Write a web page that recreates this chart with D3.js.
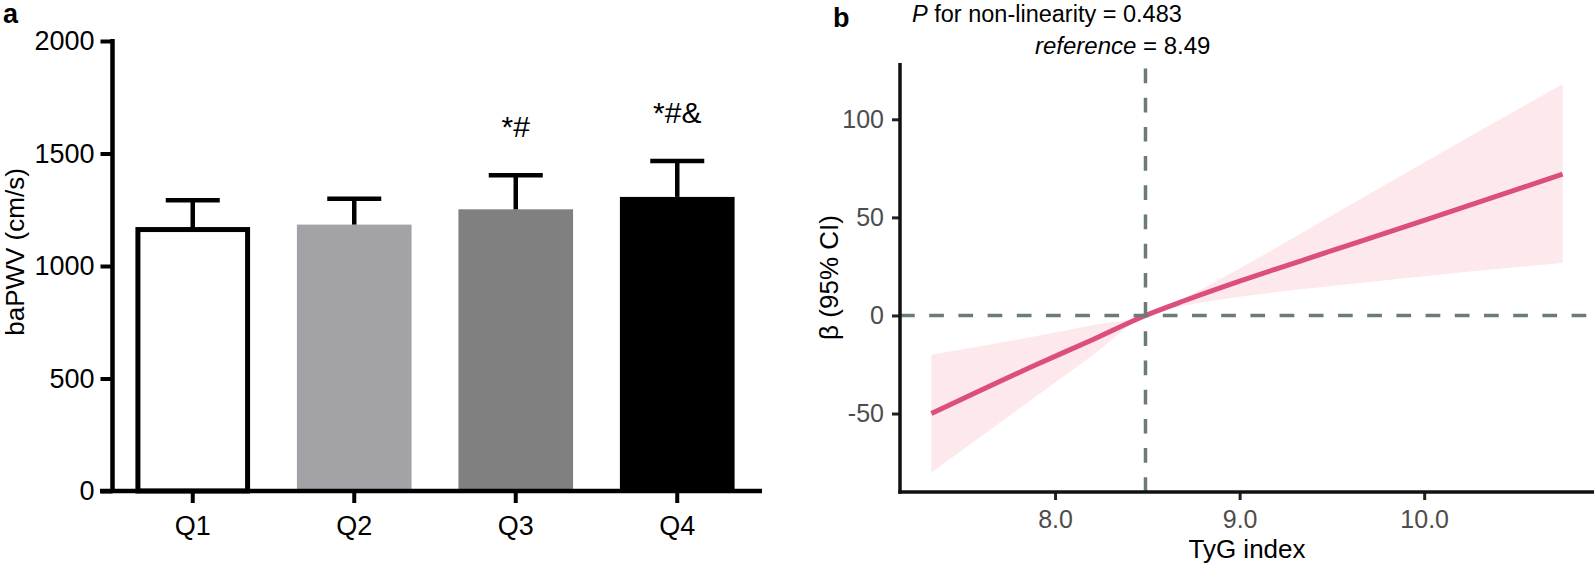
<!DOCTYPE html>
<html>
<head>
<meta charset="utf-8">
<script src="https://cdn.jsdelivr.net/npm/d3@7"></script>
<style>
  body { margin: 0; background: #fff; }
  svg { display: block; }
  text { font-family: "Liberation Sans", Arial, sans-serif; }
</style>
</head>
<body>
<div id="chart"></div>
<script>
//--panel a: baPWV by TyG quartile--//
var quartiles = ["Q1", "Q2", "Q3", "Q4"];
var baPWVmean = [1162, 1184, 1252, 1307];
var baPWVsd = [130, 115, 151, 160];
var sigMarks = ["", "", "*#", "*#&"];
var barFills = ["#ffffff", "#a3a2a7", "#808080", "#000000"];
var yTicksA = [0, 500, 1000, 1500, 2000];

//--panel b: restricted cubic spline, beta (95% CI) vs TyG index--//
var tygIndex = [7.33, 7.9, 8.2, 8.49, 8.7, 9.0, 9.5, 10.0, 10.75];
var betaFit = [-50, -25, -12.5, 0, 7.5, 17.5, 33, 48.5, 72];
var betaUpper = [-20, -10.5, -5, 0, 9, 24, 51, 78, 118];
var betaLower = [-80, -41, -20.5, 0, 5, 9.5, 15, 20, 26.8];
var xTicksB = [8, 9, 10];
var yTicksB = [-50, 0, 50, 100];
var refTyG = 8.49;

var svg = d3.select("#chart")
  .append("svg")
    .attr("width", 1594)
    .attr("height", 569);

// ---------- panel a ----------
var xA = d3.scaleBand()
    .domain(quartiles)
    .range([112, 758])
    .paddingInner(0.29)
    .paddingOuter(0.145);
var yA = d3.scaleLinear()
    .domain([0, 2000])
    .range([491, 41]);

var barsA = quartiles.map(function(q, i) {
  return {q: q, mean: baPWVmean[i], sd: baPWVsd[i], fill: barFills[i], sig: sigMarks[i]};
});

var gA = svg.append("g");

// bars
gA.selectAll("rect.bar")
  .data(barsA)
  .enter()
  .append("rect")
    .attr("class", "bar")
    .attr("x", function(d) { return d.q == "Q1" ? xA(d.q) + 2.5 : xA(d.q); })
    .attr("width", function(d) { return d.q == "Q1" ? xA.bandwidth() - 5 : xA.bandwidth(); })
    .attr("y", function(d) { return yA(d.mean); })
    .attr("height", function(d) { return yA(0) - yA(d.mean); })
    .style("fill", function(d) { return d.fill; })
    .style("stroke", function(d) { return d.q == "Q1" ? "#000" : "none"; })
    .style("stroke-width", 5);

// error bars (mean + SD)
var cx = function(d) { return xA(d.q) + xA.bandwidth() / 2; };
gA.selectAll("line.stem")
  .data(barsA)
  .enter()
  .append("line")
    .attr("x1", cx).attr("x2", cx)
    .attr("y1", function(d) { return yA(d.mean); })
    .attr("y2", function(d) { return yA(d.mean + d.sd); })
    .style("stroke", "#000")
    .style("stroke-width", 4.5);
gA.selectAll("line.cap")
  .data(barsA)
  .enter()
  .append("line")
    .attr("x1", function(d) { return cx(d) - 27; })
    .attr("x2", function(d) { return cx(d) + 27; })
    .attr("y1", function(d) { return yA(d.mean + d.sd); })
    .attr("y2", function(d) { return yA(d.mean + d.sd); })
    .style("stroke", "#000")
    .style("stroke-width", 4.5);

// significance marks
gA.selectAll("text.sig")
  .data(barsA)
  .enter()
  .append("text")
    .attr("x", cx)
    .attr("y", function(d) { return yA(d.mean + d.sd) - 38; })
    .attr("text-anchor", "middle")
    .style("font-size", "30px")
    .text(function(d) { return d.sig; });

// y axis
gA.append("g")
    .attr("transform", "translate(112.5,0)")
    .call(d3.axisLeft(yA).tickValues(yTicksA).tickFormat(function(d) { return String(d); })
      .tickSize(12).tickPadding(6).tickSizeOuter(0))
    .call(function(g) {
      g.select(".domain").remove();
      g.selectAll(".tick line").style("stroke", "#000").style("stroke-width", 4);
      g.selectAll(".tick text").style("font-size", "27px").style("fill", "#000")
        .style("font-family", "'Liberation Sans', Arial, sans-serif");
    });
gA.append("line")
    .attr("x1", 112.5).attr("x2", 112.5)
    .attr("y1", yA(2000) - 2).attr("y2", yA(0))
    .style("stroke", "#000").style("stroke-width", 4.5);

// x axis
gA.append("g")
    .attr("transform", "translate(0,491)")
    .call(d3.axisBottom(xA).tickSize(12).tickPadding(13).tickSizeOuter(0))
    .call(function(g) {
      g.select(".domain").remove();
      g.selectAll(".tick line").style("stroke", "#000").style("stroke-width", 4);
      g.selectAll(".tick text").style("font-size", "27px").style("fill", "#000")
        .style("font-family", "'Liberation Sans', Arial, sans-serif");
    });
gA.append("line")
    .attr("x1", 100).attr("x2", 762)
    .attr("y1", 491).attr("y2", 491)
    .style("stroke", "#000").style("stroke-width", 4.5);

// y axis label
gA.append("text")
    .attr("transform", "translate(24,252) rotate(-90)")
    .attr("text-anchor", "middle")
    .style("font-size", "26px")
    .text("baPWV (cm/s)");

// panel letter
svg.append("text").attr("x", 3).attr("y", 23).text("a")
  .style("font-size", "27px").style("font-weight", "bold");

// ---------- panel b ----------
var xB = d3.scaleLinear()
    .domain([7.16, 10.92])
    .range([900, 1594]);
var yB = d3.scaleLinear()
    .domain([-90, 128.7])
    .range([492, 63]);

var splinePts = tygIndex.map(function(t, i) {
  return {x: t, fit: betaFit[i], lo: betaLower[i], hi: betaUpper[i]};
});

var gB = svg.append("g");

// confidence band
gB.append("path")
    .datum(splinePts)
    .attr("d", d3.area()
      .curve(d3.curveMonotoneX)
      .x(function(d) { return xB(d.x); })
      .y0(function(d) { return yB(d.lo); })
      .y1(function(d) { return yB(d.hi); }))
    .style("fill", "#fde8ec")
    .style("stroke", "none");

// fitted line
gB.append("path")
    .datum(splinePts)
    .attr("d", d3.line()
      .curve(d3.curveMonotoneX)
      .x(function(d) { return xB(d.x); })
      .y(function(d) { return yB(d.fit); }))
    .style("fill", "none")
    .style("stroke", "#dc4f7c")
    .style("stroke-width", 5);

// reference lines (dashed)
gB.append("line")
    .attr("x1", 900).attr("x2", 1594)
    .attr("y1", yB(0)).attr("y2", yB(0))
    .style("stroke", "#6b7b76").style("stroke-width", 3.5)
    .style("stroke-dasharray", "14.7,14.5");
gB.append("line")
    .attr("x1", xB(refTyG)).attr("x2", xB(refTyG))
    .attr("y1", 492).attr("y2", 63)
    .style("stroke", "#6b7b76").style("stroke-width", 3.5)
    .style("stroke-dasharray", "14.7,14.5");

// axes
gB.append("g")
    .attr("transform", "translate(900,0)")
    .call(d3.axisLeft(yB).tickValues(yTicksB).tickFormat(function(d) { return String(d); })
      .tickSize(8).tickPadding(8).tickSizeOuter(0))
    .call(function(g) {
      g.select(".domain").remove();
      g.selectAll(".tick line").style("stroke", "#222").style("stroke-width", 3);
      g.selectAll(".tick text").style("font-size", "25px").style("fill", "#4d4d4d")
        .style("font-family", "'Liberation Sans', Arial, sans-serif");
    });
gB.append("g")
    .attr("transform", "translate(0,492)")
    .call(d3.axisBottom(xB).tickValues(xTicksB).tickFormat(d3.format(".1f"))
      .tickSize(8).tickPadding(10).tickSizeOuter(0))
    .call(function(g) {
      g.select(".domain").remove();
      g.selectAll(".tick line").style("stroke", "#222").style("stroke-width", 3);
      g.selectAll(".tick text").style("font-size", "25px").style("fill", "#4d4d4d")
        .style("font-family", "'Liberation Sans', Arial, sans-serif");
    });
gB.append("line")
    .attr("x1", 900).attr("x2", 900).attr("y1", 63).attr("y2", 493.7)
    .style("stroke", "#111").style("stroke-width", 3.5);
gB.append("line")
    .attr("x1", 898.3).attr("x2", 1594).attr("y1", 492).attr("y2", 492)
    .style("stroke", "#111").style("stroke-width", 3.5);

// axis titles
gB.append("text")
    .attr("x", 1247).attr("y", 558)
    .attr("text-anchor", "middle")
    .style("font-size", "26px")
    .text("TyG index");
gB.append("text")
    .attr("transform", "translate(838,277.5) rotate(-90)")
    .attr("text-anchor", "middle")
    .style("font-size", "26px")
    .text("β (95% CI)");

// annotations
var t1 = gB.append("text").attr("x", 912).attr("y", 22).style("font-size", "23.5px");
t1.append("tspan").style("font-style", "italic").text("P");
t1.append("tspan").text(" for non-linearity = 0.483");
var t2 = gB.append("text").attr("x", 1035).attr("y", 54).style("font-size", "24px");
t2.append("tspan").style("font-style", "italic").text("reference");
t2.append("tspan").text(" = 8.49");

svg.append("text").attr("x", 833).attr("y", 27).text("b")
  .style("font-size", "27px").style("font-weight", "bold");
</script>
</body>
</html>
